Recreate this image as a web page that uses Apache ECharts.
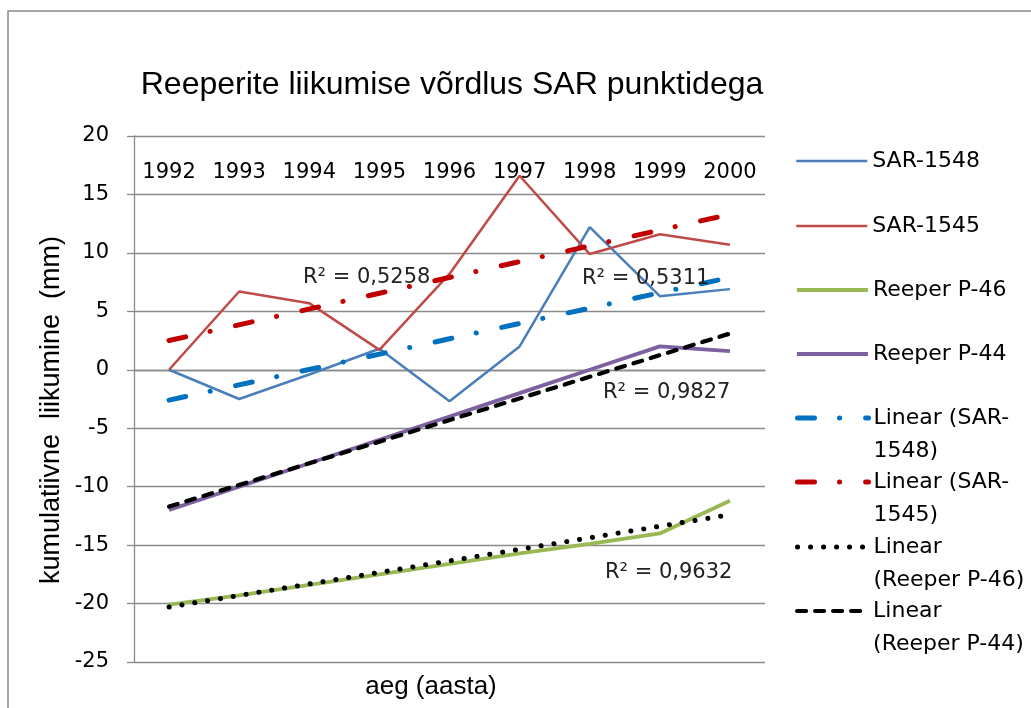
<!DOCTYPE html>
<html>
<head>
<meta charset="utf-8">
<script src="https://cdn.jsdelivr.net/npm/echarts@6/dist/echarts.min.js"></script>
<style>
  html, body { margin: 0; padding: 0; background: #fff; }
  #chart { width: 1031px; height: 708px; }
</style>
</head>
<body>
<div id="chart"></div>
<script>
const years = ['1992', '1993', '1994', '1995', '1996', '1997', '1998', '1999', '2000']
const sar1548 = [0, -2.5, -0.4, 1.8, -2.7, 2.0, 12.2, 6.3, 6.9]
const sar1545 = [0, 6.7, 5.7, 1.7, 8.2, 16.6, 9.9, 11.6, 10.7]
const reeperP46 = [-20.1, -19.3, -18.4, -17.5, -16.6, -15.7, -14.9, -14.0, -11.2]
const reeperP44 = [-12.0, -10.0, -8.0, -6.0, -4.0, -2.0, 0.0, 2.0, 1.6]
// trendlines: value at first and last year
const trend1548 = [-2.6, 7.9]
const trend1545 = [2.5, 13.3]
const trendP46 = [-20.3, -12.4]
const trendP44 = [-11.7, 3.1]
const r2Texts = ['R² = 0,5258', 'R² = 0,5311', 'R² = 0,9827', 'R² = 0,9632']

const numFont = 'DejaVu Sans'

// straight line from first to last category
function ends(t) {
  return years.map((_, i) => i === 0 ? t[0] : (i === years.length - 1 ? t[1] : null))
}

function trendSeries(name, t, color, width, dash) {
  return {
    name: name,
    type: 'line',
    data: ends(t),
    connectNulls: true,
    symbol: 'none',
    lineStyle: { color: color, width: width, type: dash, cap: 'round' },
    itemStyle: { color: color }
  }
}

function dataSeries(name, values, color, width) {
  return {
    name: name,
    type: 'line',
    data: values,
    symbol: 'none',
    lineStyle: { color: color, width: width },
    itemStyle: { color: color }
  }
}

const legendNames = [
  'SAR-1548', 'SAR-1545', 'Reeper P-46', 'Reeper P-44',
  'Linear (SAR-1548)', 'Linear (SAR-1545)', 'Linear (Reeper P-46)', 'Linear (Reeper P-44)'
]
// leading empty line keeps the first line level with the icon
const legendLabels = [
  'SAR-1548', 'SAR-1545', 'Reeper P-46', 'Reeper P-44',
  '\nLinear (SAR-\n1548)', '\nLinear (SAR-\n1545)', '\nLinear\n(Reeper P-46)', '\nLinear\n(Reeper P-44)'
]
const legendY = [161, 226, 290, 354, 418, 482, 547, 611]

const legends = legendNames.map((n, i) => {
  const twoLine = legendLabels[i].indexOf('\n') >= 0
  return {
    data: [n],
    left: 795,
    top: legendY[i] - 7 - (twoLine ? 42.5 : 9.5),
    padding: 0,
    itemWidth: 71,
    itemHeight: 14,
    itemStyle: { opacity: 0 },
    lineStyle: { width: 'inherit' },
    formatter: () => legendLabels[i],
    textStyle: { fontFamily: numFont, fontSize: 22, lineHeight: 33, color: '#000' }
  }
})

const chart = echarts.init(document.getElementById('chart'))

const option = {
  animation: false,
  backgroundColor: '#fff',
  grid: { left: 134, top: 136, right: 266, bottom: 46 },
  legend: legends,
  xAxis: {
    type: 'category',
    position: 'top',
    data: years,
    boundaryGap: true,
    axisLine: { lineStyle: { color: '#8a8a8a', width: 1.3 } },
    axisTick: { inside: true, length: 9, lineStyle: { color: '#8a8a8a', width: 1.3 } },
    axisLabel: { inside: true, margin: 26, fontFamily: numFont, fontSize: 21, color: '#000' },
    splitLine: { show: false }
  },
  yAxis: {
    type: 'value',
    min: -25,
    max: 20,
    interval: 5,
    axisLine: { show: true, lineStyle: { color: '#8a8a8a', width: 1.3 } },
    axisTick: { show: true, length: 7, lineStyle: { color: '#8a8a8a', width: 1.3 } },
    axisLabel: { margin: 25, fontFamily: numFont, fontSize: 21, color: '#000' },
    splitLine: { lineStyle: { color: '#8a8a8a', width: 1.3 } }
  },
  graphic: [
    {
      type: 'rect',
      shape: { x: 8, y: 11, width: 1040, height: 720 },
      style: { fill: 'none', stroke: '#8a8a8a', lineWidth: 1.5 },
      silent: true
    },
    {
      type: 'text', x: 452, y: 85,
      style: { text: 'Reeperite liikumise võrdlus SAR punktidega', font: '32px "Liberation Sans"', fill: '#000', align: 'center', verticalAlign: 'middle' }
    },
    {
      type: 'text', x: 52, y: 410, rotation: Math.PI / 2,
      style: { text: 'kumulatiivne  liikumine  (mm)', font: '27px "Liberation Sans"', fill: '#000', align: 'center', verticalAlign: 'middle' }
    },
    {
      type: 'text', x: 431, y: 687,
      style: { text: 'aeg (aasta)', font: '26px "Liberation Sans"', fill: '#000', align: 'center', verticalAlign: 'middle' }
    },
    { type: 'text', x: 303, y: 278, z: 10, style: { text: r2Texts[0], font: '21px "DejaVu Sans"', fill: '#222', verticalAlign: 'middle' } },
    { type: 'text', x: 582, y: 279, z: 10, style: { text: r2Texts[1], font: '21px "DejaVu Sans"', fill: '#222', verticalAlign: 'middle' } },
    { type: 'text', x: 603, y: 393, z: 10, style: { text: r2Texts[2], font: '21px "DejaVu Sans"', fill: '#222', verticalAlign: 'middle' } },
    { type: 'text', x: 605, y: 573, z: 10, style: { text: r2Texts[3], font: '21px "DejaVu Sans"', fill: '#222', verticalAlign: 'middle' } }
  ],
  series: [
    dataSeries('SAR-1548', sar1548, '#4a7ebb', 2.5),
    dataSeries('SAR-1545', sar1545, '#be4b48', 2.5),
    dataSeries('Reeper P-46', reeperP46, '#98b954', 3.8),
    dataSeries('Reeper P-44', reeperP44, '#7d60a0', 3.8),
    trendSeries('Linear (SAR-1548)', trend1548, '#0070c0', 5, [17, 25, 0.1, 26]),
    trendSeries('Linear (SAR-1545)', trend1545, '#c00000', 5, [17, 25, 0.1, 26]),
    trendSeries('Linear (Reeper P-46)', trendP46, '#000', 5, [0.1, 12.9]),
    trendSeries('Linear (Reeper P-44)', trendP44, '#000', 4.2, [9, 9])
  ]
}

chart.setOption(option)
</script>
</body>
</html>
